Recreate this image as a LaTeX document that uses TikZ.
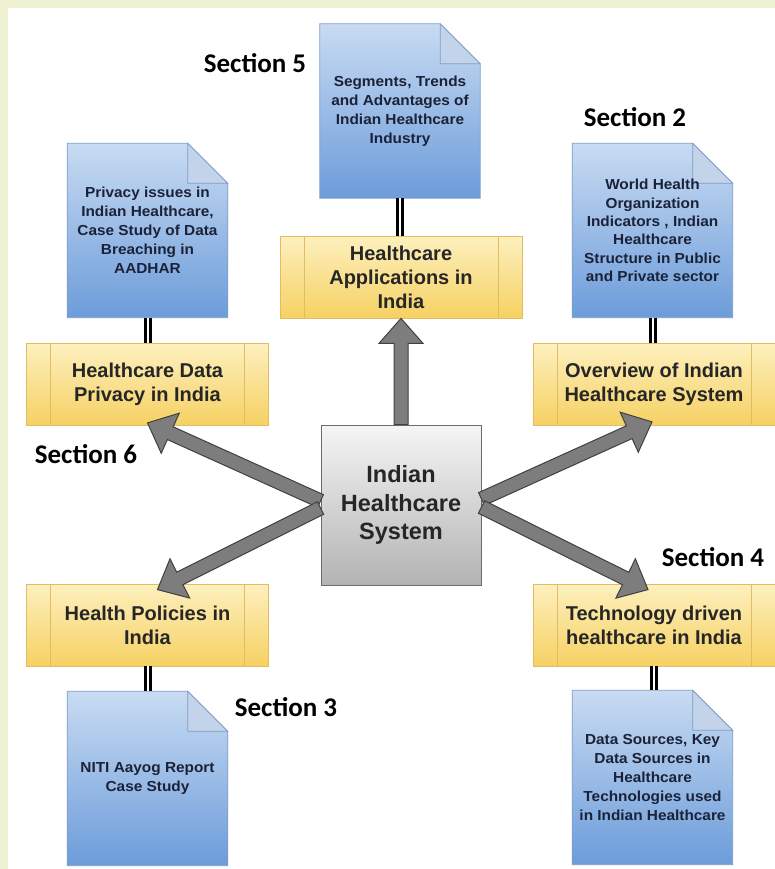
\documentclass[tikz,border=0pt]{standalone}
\usepackage{fontspec}
\setmainfont{Liberation Sans}
\newfontfamily\docfont[FakeStretch=1.06]{Liberation Sans}
\newfontfamily\secfont{Carlito}
\usetikzlibrary{calc,backgrounds}

\definecolor{framegreen}{HTML}{EEF2D0}
\definecolor{doctop}{HTML}{C8DBF2}
\definecolor{docbot}{HTML}{6C9CDA}
\definecolor{docedge}{HTML}{7F9CC8}
\definecolor{docfoldc}{HTML}{C3D3EA}
\definecolor{doctext}{HTML}{1B2238}
\definecolor{boxtop}{HTML}{FDF0BE}
\definecolor{boxbot}{HTML}{F6D163}
\definecolor{boxedge}{HTML}{E2BC62}
\definecolor{systop}{HTML}{F5F5F5}
\definecolor{sysbot}{HTML}{B3B3B3}
\definecolor{arrowfill}{HTML}{7D7D7D}

\tikzset{
  sysnode/.style={minimum width=160pt, minimum height=160pt, top color=systop, bottom color=sysbot,
    draw=gray!85!black, line width=1pt, align=center, text=black!85,
    font=\bfseries\fontsize{23.5}{28.5}\selectfont},
  boxnode/.style={minimum width=242pt, minimum height=82pt, top color=boxtop, bottom color=boxbot,
    draw=boxedge, line width=0.8pt, align=center, text=black!85,
    font=\bfseries\fontsize{20}{24}\selectfont,
    path picture={
      \draw[boxedge, line width=0.8pt] ([xshift=24pt]path picture bounding box.north west) -- ([xshift=24pt]path picture bounding box.south west);
      \draw[boxedge, line width=0.8pt] ([xshift=-24pt]path picture bounding box.north east) -- ([xshift=-24pt]path picture bounding box.south east);}},
  docnode/.style={minimum width=160pt, minimum height=174pt, align=center, text=doctext,
    font=\docfont\bfseries\fontsize{14.5}{19}\selectfont},
  secnode/.style={font=\secfont\bfseries\fontsize{27}{30}\selectfont},
  twin/.style={draw=black, double=white, double distance=2pt, line width=3pt},
  fatarrow/.style={fill=arrowfill, draw=black!75, line width=1pt, line join=miter}
}

% folded page behind a document node
\newcommand\docback[1]{%
  \begin{pgfonlayer}{background}
    \shade[top color=doctop, bottom color=docbot, draw=docedge, line width=0.8pt]
      (#1.north west) -- ($(#1.north east)+(-40,0)$) -- ($(#1.north east)+(0,40)$)
      -- (#1.south east) -- (#1.south west) -- cycle;
    \filldraw[fill=docfoldc, draw=docedge, line width=0.8pt]
      ($(#1.north east)+(-40,0)$) -- ($(#1.north east)+(-40,40)$) -- ($(#1.north east)+(0,40)$) -- cycle;
  \end{pgfonlayer}}

% block arrow from #1 to #2
\newcommand\fatarrow[2]{%
  \coordinate (fa-h) at ($(#2)!25pt!(#1)$);
  \filldraw[fatarrow] ($(#1)!7pt!90:(#2)$) -- ($(fa-h)!7pt!90:(#2)$) -- ($(fa-h)!22pt!90:(#2)$)
    -- (#2) -- ($(fa-h)!22pt!-90:(#2)$) -- ($(fa-h)!7pt!-90:(#2)$) -- ($(#1)!7pt!-90:(#2)$) -- cycle;}

\begin{document}
\begin{tikzpicture}[x=1pt, y=-1pt]
  % Frame
  \useasboundingbox (0,0) rectangle (775,869);
  \begin{pgfonlayer}{background}
    \fill[framegreen] (0,0) rectangle (775,869);
    \fill[white] (8,8) rectangle (775,869);
  \end{pgfonlayer}

  % Centre
  \node[sysnode] (sys) at (401,505) {Indian\\Healthcare\\System};

  % Chapter boxes
  \node[boxnode] (apps) at (401,277) {Healthcare\\Applications in\\India};
  \node[boxnode] (priv) at (147.5,384.5) {Healthcare Data\\Privacy in India};
  \node[boxnode] (ov) at (654,384.5) {Overview of Indian\\Healthcare System};
  \node[boxnode] (pol) at (147.5,625) {Health Policies in\\India};
  \node[boxnode] (tech) at (654,625) {Technology driven\\healthcare in India};

  % Documents
  \node[docnode] (appsdoc) at (400,111) {Segments, Trends\\and Advantages of\\Indian Healthcare\\Industry};
  \docback{appsdoc}
  \node[docnode] (privdoc) at (147.5,230.5) {Privacy issues in\\Indian Healthcare,\\Case Study of Data\\Breaching in\\AADHAR};
  \docback{privdoc}
  \node[docnode, font=\docfont\bfseries\fontsize{14.5}{18.3}\selectfont] (ovdoc) at (652.5,230.5) {World Health\\Organization\\Indicators , Indian\\Healthcare\\Structure in Public\\and Private sector};
  \docback{ovdoc}
  \node[docnode] (poldoc) at (147.5,778.5) {NITI Aayog Report\\Case Study};
  \docback{poldoc}
  \node[docnode] (techdoc) at (652.5,777.5) {Data Sources, Key\\Data Sources in\\Healthcare\\Technologies used\\in Indian Healthcare};
  \docback{techdoc}

  % Section labels
  \node[secnode] (sec5) at (255,63) {Section 5};
  \node[secnode] (sec2) at (635,117) {Section 2};
  \node[secnode] (sec6) at (86,454) {Section 6};
  \node[secnode] (sec3) at (286,707) {Section 3};
  \node[secnode] (sec4) at (713,557) {Section 4};

  % Links to documents
  \draw[twin] (appsdoc.south) -- (appsdoc.south |- apps.north);
  \draw[twin] (privdoc.south) -- (privdoc.south |- priv.north);
  \draw[twin] (ovdoc.south) -- (ovdoc.south |- ov.north);
  \draw[twin] (pol.south) -- (pol.south |- poldoc.north);
  \draw[twin] (tech.south) -- (tech.south |- techdoc.north);

  % Arrows
  \coordinate (lu) at ($(sys.west)+(0,-4)$);
  \coordinate (ld) at ($(sys.west)+(0,3)$);
  \coordinate (ru) at ($(sys.east)+(0,-6)$);
  \coordinate (rd) at ($(sys.east)+(0,2)$);
  \coordinate (privtip) at ($(priv.south)+(0,-3)$);
  \coordinate (ovtip) at ($(ov.south)+(-2,-4)$);
  \coordinate (poltip) at ($(pol.north)+(10,6)$);
  \coordinate (techtip) at ($(tech.north)+(-6,6)$);
  \fatarrow{sys.north}{apps.south}
  \fatarrow{lu}{privtip}
  \fatarrow{ld}{poltip}
  \fatarrow{ru}{ovtip}
  \fatarrow{rd}{techtip}
\end{tikzpicture}
\end{document}
